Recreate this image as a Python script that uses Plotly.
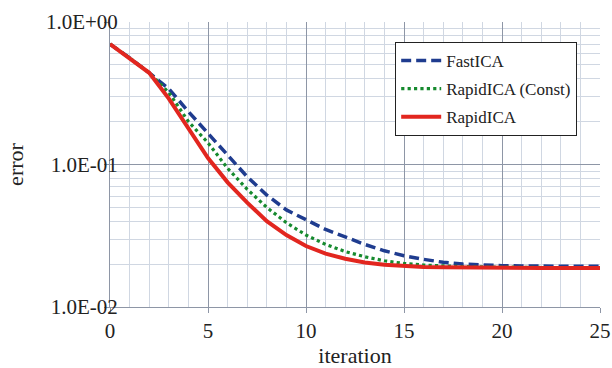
import plotly.graph_objects as go

iterations = list(range(26))
fastica = [0.70, 0.56, 0.44, 0.34, 0.235, 0.165, 0.115, 0.082, 0.061, 0.048, 0.041,
           0.035, 0.031, 0.0275, 0.0248, 0.0229, 0.0216, 0.0206, 0.0200, 0.0197,
           0.0195, 0.0194, 0.0193, 0.0193, 0.0193, 0.0193]
rapid_const = [0.70, 0.56, 0.44, 0.32, 0.20, 0.142, 0.094, 0.067, 0.050, 0.039, 0.032,
               0.0275, 0.0245, 0.0225, 0.0211, 0.0202, 0.0197, 0.0194, 0.0192, 0.0191,
               0.0190, 0.0190, 0.0190, 0.0189, 0.0189, 0.0189]
rapid = [0.70, 0.56, 0.44, 0.29, 0.177, 0.111, 0.075, 0.054, 0.040, 0.032, 0.0268,
         0.0237, 0.0218, 0.0205, 0.0198, 0.0194, 0.0191, 0.0190, 0.0189, 0.0189,
         0.0188, 0.0188, 0.0188, 0.0188, 0.0188, 0.0188]

y_tickvals = [0.01, 0.1, 1]
y_ticktext = ["1.0E-02", "1.0E-01", "1.0E+00"]
x_tickvals = [0, 5, 10, 15, 20, 25]

serif = "Times New Roman"
txt = "#222222"

fig = go.Figure()
fig.add_trace(go.Scatter(x=iterations, y=fastica, mode="lines", name="FastICA",
                         legendgroup="a",
                         line=dict(color="#1f3c8f", width=3.5, dash="10px,5px")))
fig.add_trace(go.Scatter(x=iterations, y=rapid_const, mode="lines", name="RapidICA (Const)",
                         legendgroup="b",
                         line=dict(color="#168a2e", width=3.2, dash="dot")))
fig.add_trace(go.Scatter(x=iterations, y=rapid, mode="lines", name="RapidICA",
                         legendgroup="c",
                         line=dict(color="#e2261f", width=4)))

minor_y = [m * 10 ** e for e in (-2, -1) for m in range(2, 10)]

fig.update_layout(
    width=612, height=368,
    margin=dict(l=110, r=12, t=22, b=61),
    paper_bgcolor="white", plot_bgcolor="white",
    font=dict(family=serif, color=txt),
    showlegend=True,
    legend=dict(x=0.582, y=0.93, xanchor="left", yanchor="top",
                bgcolor="white", bordercolor=txt, borderwidth=1,
                font=dict(family=serif, size=17, color=txt),
                tracegroupgap=3, traceorder="grouped", itemwidth=40),
    xaxis=dict(range=[0, 25], tickvals=x_tickvals, showgrid=True, automargin=False,
               gridcolor="#8e96a6", gridwidth=1,
               minor=dict(dtick=1, showgrid=True, gridcolor="#d0d7e2", gridwidth=1),
               ticks="outside", ticklen=5, tickcolor="#8e96a6",
               showline=True, linecolor="#8e96a6", linewidth=1, mirror=False,
               zeroline=False,
               tickfont=dict(family=serif, size=21, color=txt),
               title=dict(text="iteration", font=dict(family=serif, size=22, color=txt),
                          standoff=6)),
    yaxis=dict(type="log", range=[-2, 0], tickvals=y_tickvals, ticktext=y_ticktext,
               showgrid=True, gridcolor="#8e96a6", gridwidth=1, automargin=False,
               minor=dict(tickvals=minor_y, showgrid=True, gridcolor="#d0d7e2", gridwidth=1),
               ticks="outside", ticklen=5, tickcolor="#8e96a6",
               showline=True, linecolor="#8e96a6", linewidth=1,
               zeroline=False, ticklabelstandoff=-18,
               tickfont=dict(family=serif, size=21, color=txt),
               title=dict(text="error", font=dict(family=serif, size=22, color=txt),
                          standoff=16)),
)

fig.write_html("out.html")
